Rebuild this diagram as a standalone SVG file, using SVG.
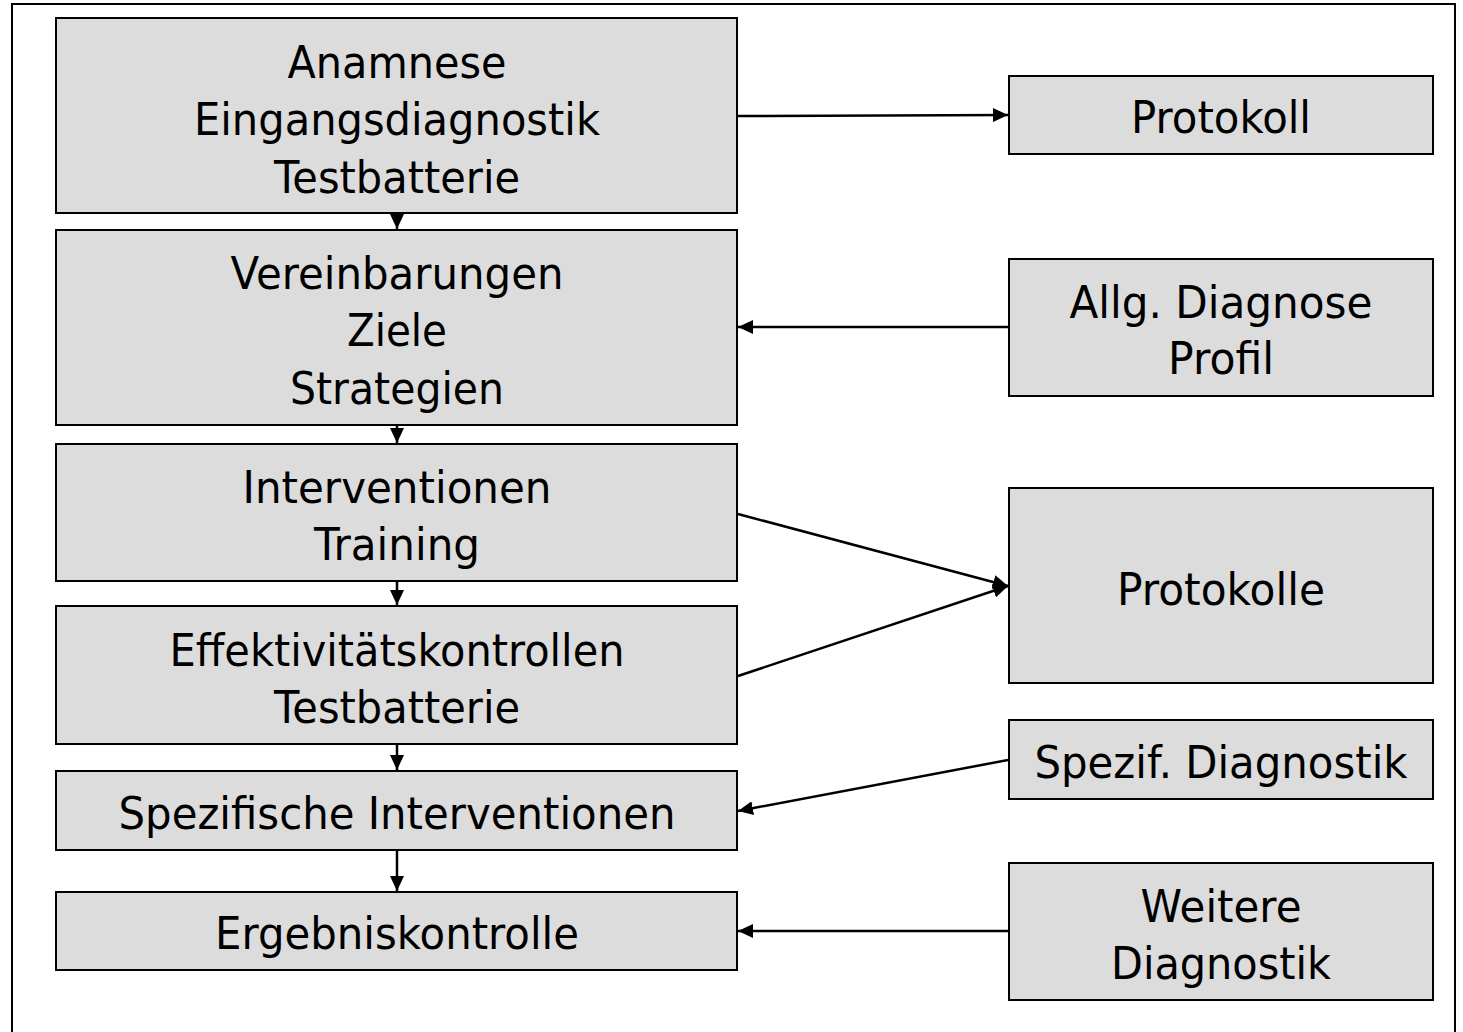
<svg xmlns="http://www.w3.org/2000/svg" width="1463" height="1032" viewBox="0 0 1463 1032">
<style>
.box{fill:#dcdcdc;stroke:#000;stroke-width:2}
.t{font-family:"DejaVu Sans",Verdana,sans-serif;font-size:44px;fill:#000;text-anchor:middle}
.c{stroke:#000;stroke-width:2.5;fill:none;marker-end:url(#ah)}
</style>
<defs>
<marker id="ah" markerUnits="userSpaceOnUse" markerWidth="16" markerHeight="14" refX="15" refY="7" orient="auto">
<path d="M0,0 L15,7 L0,14 Z" fill="#000"/>
</marker>
</defs>
<rect x="12" y="4" width="1443" height="1040" fill="#fff" stroke="#000" stroke-width="2"/>
<g id="n1"><rect class="box" x="56" y="18" width="681" height="195"/>
<text class="t" x="397" y="78" textLength="219" lengthAdjust="spacingAndGlyphs">Anamnese</text>
<text class="t" x="397" y="135" textLength="406" lengthAdjust="spacingAndGlyphs">Eingangsdiagnostik</text>
<text class="t" x="397" y="193" textLength="246" lengthAdjust="spacingAndGlyphs">Testbatterie</text></g>
<g id="n2"><rect class="box" x="56" y="230" width="681" height="195"/>
<text class="t" x="397" y="289" textLength="333" lengthAdjust="spacingAndGlyphs">Vereinbarungen</text>
<text class="t" x="397" y="346" textLength="100" lengthAdjust="spacingAndGlyphs">Ziele</text>
<text class="t" x="397" y="404" textLength="214" lengthAdjust="spacingAndGlyphs">Strategien</text></g>
<g id="n3"><rect class="box" x="56" y="444" width="681" height="137"/>
<text class="t" x="397" y="503" textLength="309" lengthAdjust="spacingAndGlyphs">Interventionen</text>
<text class="t" x="397" y="560" textLength="166" lengthAdjust="spacingAndGlyphs">Training</text></g>
<g id="n4"><rect class="box" x="56" y="606" width="681" height="138"/>
<text class="t" x="397" y="666" textLength="455" lengthAdjust="spacingAndGlyphs">Effektivitätskontrollen</text>
<text class="t" x="397" y="723" textLength="246" lengthAdjust="spacingAndGlyphs">Testbatterie</text></g>
<g id="n5"><rect class="box" x="56" y="771" width="681" height="79"/>
<text class="t" x="397" y="829" textLength="557" lengthAdjust="spacingAndGlyphs">Spezifische Interventionen</text></g>
<g id="n6"><rect class="box" x="56" y="892" width="681" height="78"/>
<text class="t" x="397" y="949" textLength="364" lengthAdjust="spacingAndGlyphs">Ergebniskontrolle</text></g>
<g id="r1"><rect class="box" x="1009" y="76" width="424" height="78"/>
<text class="t" x="1221" y="133" textLength="180" lengthAdjust="spacingAndGlyphs">Protokoll</text></g>
<g id="r2"><rect class="box" x="1009" y="259" width="424" height="137"/>
<text class="t" x="1221" y="318" textLength="303" lengthAdjust="spacingAndGlyphs">Allg. Diagnose</text>
<text class="t" x="1221" y="374" textLength="106" lengthAdjust="spacingAndGlyphs">Profil</text></g>
<g id="r3"><rect class="box" x="1009" y="488" width="424" height="195"/>
<text class="t" x="1221" y="605" textLength="208" lengthAdjust="spacingAndGlyphs">Protokolle</text></g>
<g id="r4"><rect class="box" x="1009" y="720" width="424" height="79"/>
<text class="t" x="1221" y="778" textLength="373" lengthAdjust="spacingAndGlyphs">Spezif. Diagnostik</text></g>
<g id="r5"><rect class="box" x="1009" y="863" width="424" height="137"/>
<text class="t" x="1221" y="922" textLength="161" lengthAdjust="spacingAndGlyphs">Weitere</text>
<text class="t" x="1221" y="979" textLength="220" lengthAdjust="spacingAndGlyphs">Diagnostik</text></g>
<g id="connectors">
<line class="c" x1="738" y1="116" x2="1008" y2="115"/>
<line class="c" x1="397" y1="213" x2="397" y2="229"/>
<line class="c" x1="397" y1="425" x2="397" y2="443"/>
<line class="c" x1="397" y1="581" x2="397" y2="605"/>
<line class="c" x1="397" y1="744" x2="397" y2="770"/>
<line class="c" x1="397" y1="850" x2="397" y2="891"/>
<line class="c" x1="1008" y1="327" x2="738" y2="327"/>
<line class="c" x1="738" y1="514" x2="1008" y2="586"/>
<line class="c" x1="738" y1="676" x2="1008" y2="586"/>
<line class="c" x1="1008" y1="760" x2="738" y2="811"/>
<line class="c" x1="1008" y1="931" x2="738" y2="931"/>
</g>
</svg>
